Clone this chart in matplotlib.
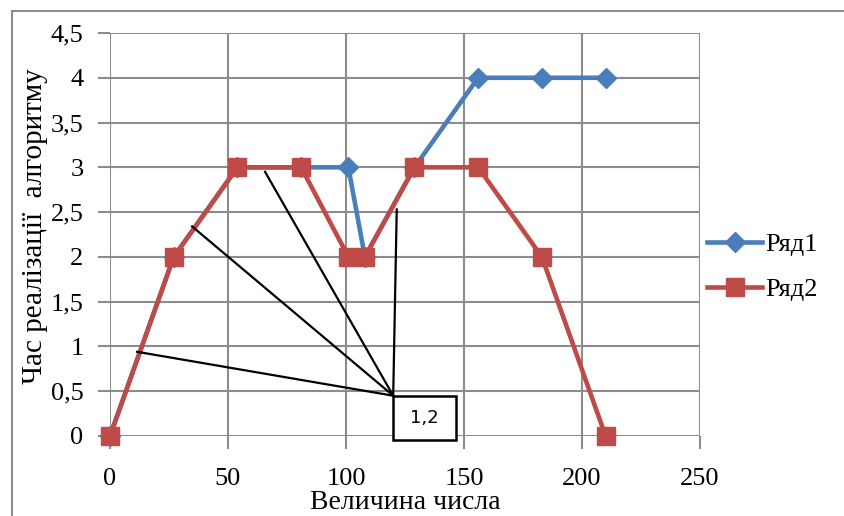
import matplotlib
matplotlib.use("Agg")
from matplotlib import pyplot as plt
from matplotlib.patches import Rectangle
from matplotlib.ticker import FuncFormatter

# data
sizes = [0, 27, 54, 81, 101, 108, 129, 156, 183, 210]
row1 = [0, 2, 3, 3, 3, 2, 3, 4, 4, 4]
row2 = [0, 2, 3, 3, 2, 2, 3, 3, 2, 0]
series_names = ["Ряд1", "Ряд2"]

# callout "1,2" with its leader lines
callout_text = "1,2"
callout_anchor = (120.0, 0.45)
callout_targets = [(11.5, 0.94), (34.8, 2.34), (65.7, 2.95), (121.5, 2.53)]

BLUE = "#4A7EBB"
RED = "#BE4B48"
GRID = "#8C8C8C"
W, H = 845, 516

plt.rcParams["font.family"] = ["Liberation Serif", "DejaVu Serif"]

fig = plt.figure(figsize=(W / 100, H / 100), dpi=100)
fig.patches.append(Rectangle((12 / W, -0.1), 1.0, 1 - 11 / H + 0.1,
                             transform=fig.transFigure, fill=False,
                             edgecolor=GRID, linewidth=1.5))

ax = fig.add_axes([110 / W, 1 - 436 / H, 590 / W, 403 / H])
ax.set_xlim(0, 250)
ax.set_ylim(0, 4.5)
ax.set_xticks(range(0, 251, 50))
ax.set_yticks([i * 0.5 for i in range(10)])
ax.yaxis.set_major_formatter(FuncFormatter(lambda v, p: f"{v:g}".replace(".", ",")))
ax.grid(True, color=GRID, linewidth=1.5)
ax.set_axisbelow(True)
for s in ax.spines.values():
    s.set_visible(False)
ax.tick_params(axis="both", colors=GRID, labelcolor="black", labelsize=19,
               length=9, width=1.5)
ax.tick_params(axis="x", pad=14)
ax.tick_params(axis="y", pad=10)

ax.plot(sizes, row1, color=BLUE, linewidth=3.3, marker="D", markersize=10.5,
        label=series_names[0], clip_on=False, zorder=3)
ax.plot(sizes, row2, color=RED, linewidth=3.3, marker="s", markersize=13,
        label=series_names[1], clip_on=False, zorder=4)

for tx, ty in callout_targets:
    ax.plot([callout_anchor[0], tx], [callout_anchor[1], ty], color="black",
            linewidth=1.6, zorder=5)

# callout box: top-left corner on the anchor, 63x44 px
ax_px = ax.transData.transform(callout_anchor)
bw, bh = 63, 44
box = Rectangle((ax_px[0] / W, (ax_px[1] - bh) / H), bw / W, bh / H,
                transform=fig.transFigure, facecolor="white",
                edgecolor="black", linewidth=1.8, zorder=6)
fig.patches.append(box)
fig.text((ax_px[0] + bw / 2) / W, (ax_px[1] - bh / 2) / H, callout_text,
         ha="center", va="center", family="DejaVu Sans", fontsize=13, zorder=7)

ax.set_xlabel("Величина числа", fontsize=20, labelpad=0)
ax.set_ylabel("Час реалізації  алгоритму", fontsize=21)
ax.yaxis.set_label_coords(-0.105, 0.52)

ax.legend(loc="center left", bbox_to_anchor=(1.012, 0.42), frameon=False,
          fontsize=19, handlelength=2.1, handletextpad=0.1, labelspacing=0.82,
          borderaxespad=0, borderpad=0)

fig.savefig("out.png", dpi=100)
